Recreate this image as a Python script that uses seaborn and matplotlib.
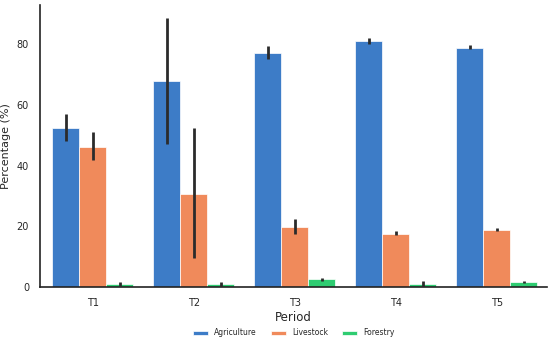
import matplotlib
matplotlib.use("Agg")
import matplotlib.pyplot as plt
import numpy as np
import pandas as pd
import seaborn as sns

periods = ["T1", "T2", "T3", "T4", "T5"]
sectors = ["Agriculture", "Livestock", "Forestry"]

agriculture = [52.5, 67.9, 77.3, 81.0, 79.0]
livestock = [46.3, 30.8, 19.7, 17.6, 18.8]
forestry = [1.0, 1.0, 2.5, 0.9, 1.6]

agriculture_low = [48.3, 47.1, 75.1, 80.3, 78.6]
agriculture_high = [57.0, 88.9, 79.6, 82.2, 79.9]
livestock_low = [41.8, 9.4, 17.5, 17.2, 18.4]
livestock_high = [51.0, 52.5, 22.4, 18.4, 19.5]
forestry_low = [0.3, 0.0, 2.0, 0.0, 1.2]
forestry_high = [1.5, 1.7, 2.9, 2.1, 2.1]

colors = ["#3d7cc7", "#f08a5b", "#2ecc71"]

df = pd.DataFrame({
    "Period": periods * 3,
    "Sector": np.repeat(sectors, len(periods)),
    "Percentage": agriculture + livestock + forestry,
})
lows = [agriculture_low, livestock_low, forestry_low]
highs = [agriculture_high, livestock_high, forestry_high]

sns.set_theme(style="white")
plt.rcParams["font.family"] = ["DejaVu Sans"]

fig, ax = plt.subplots(figsize=(5.5, 3.4), dpi=100)
sns.barplot(
    data=df,
    x="Period",
    y="Percentage",
    hue="Sector",
    hue_order=sectors,
    palette=colors,
    errorbar=None,
    edgecolor="white",
    linewidth=0.5,
    saturation=1,
    ax=ax,
)

# error bars from the low/high bounds
for container, low, high in zip(ax.containers, lows, highs):
    centers = [p.get_x() + p.get_width() / 2 for p in container.patches]
    ax.vlines(centers, low, high, color="#2b2b2b", linewidth=2, zorder=3)

ax.set_xlim(-0.52, 4.5)
ax.set_ylim(0, 93)
ax.set_yticks([0, 20, 40, 60, 80])
ax.set_xlabel("Period", fontsize=8.5, labelpad=2)
ax.set_ylabel("Percentage (%)", fontsize=8)
ax.tick_params(axis="both", labelsize=7, length=0, pad=8)
sns.despine(ax=ax)
for side in ["left", "bottom"]:
    ax.spines[side].set_color("#222222")
    ax.spines[side].set_linewidth(1.2)

ax.legend(
    loc="center",
    bbox_to_anchor=(0.5, -0.163),
    ncol=3,
    frameon=False,
    fontsize=5.5,
    handlelength=2.0,
    handleheight=0.5,
    handletextpad=0.8,
    columnspacing=1.8,
)

fig.subplots_adjust(left=0.073, right=0.995, top=0.985, bottom=0.156)
fig.savefig("out.png", dpi=100)
